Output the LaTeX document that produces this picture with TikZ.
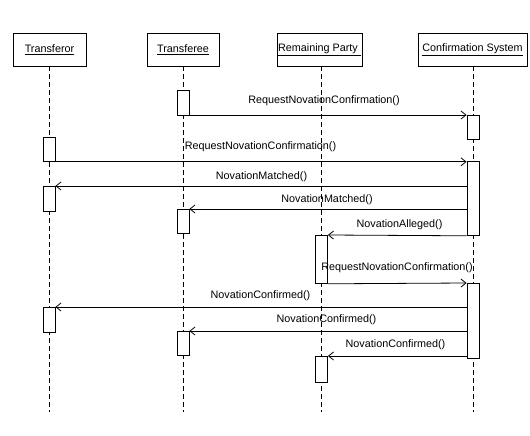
\documentclass[tikz,border=0pt]{standalone}
\usepackage{fontspec}
\setmainfont{Liberation Sans}
\usetikzlibrary{arrows.meta}
\begin{document}
\begin{tikzpicture}[x=1pt,y=-1pt,
  every node/.style={font=\fontsize{10.8}{13}\selectfont},
  head/.style={draw, line width=0.8pt, minimum height=33pt, inner sep=0pt, fill=white},
  act/.style={draw, line width=0.8pt, fill=white, minimum width=12pt, inner sep=0pt, anchor=north},
  life/.style={line width=0.8pt, dash pattern=on 5pt off 3pt},
  msg/.style={line width=0.8pt, -{Straight Barb[length=5pt,width=8pt,line width=0.8pt]}},
  lbl/.style={inner sep=0pt}]
\useasboundingbox (0,0) rectangle (530,436);
% headers
\node[head, minimum width=73pt] (tr) at (49.5,49.5) {\underline{Transferor}};
\node[head, minimum width=72pt] (te) at (183,49.5) {\underline{Transferee}};
\node[head, minimum width=85pt] (rp) at (319.5,49.5) {\underline{Remaining Party\ }};
\node[head, minimum width=109pt] (cs) at (472.5,49.5) {\underline{Confirmation System}};
% lifeline ends
\coordinate (trE) at (49,412);
\coordinate (teE) at (183,412);
\coordinate (rpE) at (321.5,412);
\coordinate (csE) at (473,412);
\draw[life] (tr.south -| trE) -- (trE);
\draw[life] (te.south -| teE) -- (teE);
\draw[life] (rp.south -| rpE) -- (rpE);
\draw[life] (cs.south -| csE) -- (csE);
% activations
\node[act, minimum height=25pt] (te1) at (183,90) {};
\node[act, minimum height=24pt] (cs1) at (473,115) {};
\node[act, minimum height=24pt] (tr1) at (49,137) {};
\node[act, minimum height=74pt] (cs2) at (473,161) {};
\node[act, minimum height=25pt] (tr2) at (49,186) {};
\node[act, minimum height=24pt] (te2) at (183,209) {};
\node[act, minimum height=48pt] (rp1) at (321.5,235) {};
\node[act, minimum height=75pt] (cs3) at (473,283) {};
\node[act, minimum height=25pt] (tr3) at (49,307) {};
\node[act, minimum height=24pt] (te3) at (183,331) {};
\node[act, minimum height=26pt] (rp2) at (321.5,356) {};
% messages
\draw[msg] (te1.south east |- cs1.north) -- (cs1.north west);
\draw[msg] (tr1.south east) -- (tr1.south east -| cs2.west);
\draw[msg] (cs2.west |- tr2.north) -- (tr2.north east);
\draw[msg] (cs2.west |- te2.north) -- (te2.north east);
\draw[msg] (cs2.south west) -- (rp1.north east);
\draw[msg] (rp1.south east) -- (cs3.north west);
\draw[msg] (cs3.west |- tr3.north) -- (tr3.north east);
\draw[msg] (cs3.west |- te3.north) -- (te3.north east);
\draw[msg] (cs3.west |- rp2.north) -- (rp2.north east);
% labels
\node[lbl] (l1) at (324,101) {RequestNovationConfirmation()};
\node[lbl] (l2) at (260.5,147) {RequestNovationConfirmation()};
\node[lbl] (l3) at (261.5,177) {NovationMatched()};
\node[lbl] (l4) at (327,200) {NovationMatched()};
\node[lbl] (l5) at (399.5,225) {NovationAlleged()};
\node[lbl] (l6) at (397,268) {RequestNovationConfirmation()};
\node[lbl] (l7) at (260.5,296) {NovationConfirmed()};
\node[lbl] (l8) at (326.5,320) {NovationConfirmed()};
\node[lbl] (l9) at (395.5,345) {NovationConfirmed()};
\end{tikzpicture}
\end{document}
